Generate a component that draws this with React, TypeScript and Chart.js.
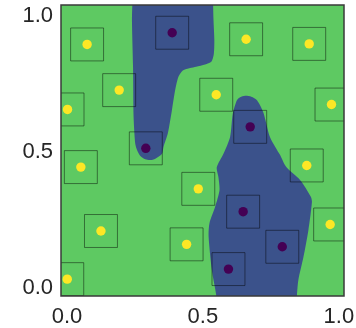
import React, { useEffect, useRef } from 'react';
import { Chart, registerables } from 'chart.js';

Chart.register(...registerables);

// Class 1 (yellow) points
const yellowX = [0.074, 0.192, 0.002, 0.051, 0.659, 0.891, 0.549, 0.973, 0.882, 0.125, 0.001, 0.483, 0.968, 0.44];
const yellowY = [0.896, 0.728, 0.657, 0.445, 0.915, 0.898, 0.711, 0.675, 0.451, 0.21, 0.033, 0.365, 0.234, 0.161];

// Class 0 (purple) points
const purpleX = [0.387, 0.29, 0.674, 0.648, 0.792, 0.594];
const purpleY = [0.939, 0.514, 0.593, 0.281, 0.152, 0.07];

// Decision region (class 0), upper lobe — boundary
const regionTopX = [0.241, 0.239, 0.243, 0.245, 0.251, 0.258, 0.269, 0.288, 0.306, 0.325, 0.349, 0.355, 0.371, 0.386, 0.398, 0.41, 0.426, 0.453, 0.475, 0.508, 0.531, 0.54, 0.542, 0.539, 0.537];
const regionTopY = [1.06, 0.985, 0.814, 0.63, 0.532, 0.507, 0.487, 0.474, 0.471, 0.476, 0.493, 0.519, 0.569, 0.654, 0.728, 0.777, 0.8, 0.809, 0.814, 0.822, 0.832, 0.86, 0.912, 0.985, 1.06];

// Decision region (class 0), lower lobe
const regionBottomX = [0.549, 0.549, 0.533, 0.521, 0.524, 0.545, 0.561, 0.557, 0.551, 0.576, 0.6, 0.61, 0.625, 0.637, 0.655, 0.678, 0.699, 0.722, 0.747, 0.784, 0.806, 0.858, 0.897, 0.901, 0.888, 0.87, 0.851, 0.846, 0.845];
const regionBottomY = [-0.06, -0.026, 0.066, 0.189, 0.238, 0.299, 0.36, 0.409, 0.444, 0.495, 0.556, 0.642, 0.691, 0.702, 0.707, 0.704, 0.691, 0.647, 0.555, 0.489, 0.446, 0.397, 0.336, 0.317, 0.213, 0.115, 0.029, -0.026, -0.06];

// Axes
const tickValues = [0, 0.5, 1.0];
const tickLabels = ['0.0', '0.5', '1.0'];
const xRange = [-0.022, 1.019];
const yRange = [-0.029, 1.041];

const GREEN = '#5ec962';
const BLUE = '#3b528b';
const YELLOW = '#fde725';
const PURPLE = '#440154';

const toXY = (xs: number[], ys: number[]) => xs.map((x, i) => ({ x, y: ys[i] }));

const bgPlugin = {
  id: 'bgPlugin',
  beforeDatasetsDraw(chart: any) {
    const { ctx, chartArea: a } = chart;
    ctx.save();
    ctx.fillStyle = GREEN;
    ctx.fillRect(a.left, a.top, a.right - a.left, a.bottom - a.top);
    ctx.restore();
  },
  afterDatasetsDraw(chart: any) {
    const { ctx, chartArea: a } = chart;
    ctx.save();
    ctx.strokeStyle = '#3a3a3a';
    ctx.lineWidth = 1.5;
    ctx.strokeRect(a.left, a.top, a.right - a.left, a.bottom - a.top);
    ctx.restore();
  },
};

export default function App() {
  const ref = useRef<HTMLCanvasElement | null>(null);

  useEffect(() => {
    if (!ref.current) return;
    const allX = [...yellowX, ...purpleX];
    const allY = [...yellowY, ...purpleY];
    const font = { family: '"Liberation Sans", Arial, sans-serif', size: 22 };
    const chart = new Chart(ref.current, {
      type: 'scatter',
      data: {
        datasets: [
          {
            data: toXY(yellowX, yellowY),
            pointRadius: 4.7,
            pointBackgroundColor: YELLOW,
            pointBorderWidth: 0,
            order: 0,
            clip: 0,
          } as any,
          {
            data: toXY(purpleX, purpleY),
            pointRadius: 4.7,
            pointBackgroundColor: PURPLE,
            pointBorderWidth: 0,
            order: 0,
            clip: 0,
          } as any,
          {
            data: toXY(allX, allY),
            pointStyle: 'rect',
            pointRadius: 23.3,
            pointBackgroundColor: 'rgba(0,0,0,0)',
            pointBorderColor: 'rgba(0,0,0,0.45)',
            pointBorderWidth: 1,
            order: 1,
            clip: 0,
          } as any,
          {
            type: 'line',
            data: toXY(regionTopX, regionTopY),
            showLine: true,
            fill: 'shape',
            backgroundColor: BLUE,
            borderColor: BLUE,
            borderWidth: 0,
            pointRadius: 0,
            tension: 0.25,
            order: 2,
            clip: 0,
          } as any,
          {
            type: 'line',
            data: toXY(regionBottomX, regionBottomY),
            showLine: true,
            fill: 'shape',
            backgroundColor: BLUE,
            borderColor: BLUE,
            borderWidth: 0,
            pointRadius: 0,
            tension: 0.25,
            order: 2,
            clip: 0,
          } as any,
        ],
      },
      options: {
        animation: false,
        responsive: true,
        maintainAspectRatio: false,
        events: [],
        layout: { autoPadding: false, padding: { top: 5, right: 12, left: 0, bottom: 0 } },
        plugins: { legend: { display: false }, tooltip: { enabled: false } },
        scales: {
          x: {
            type: 'linear',
            min: xRange[0],
            max: xRange[1],
            grid: { display: false, drawTicks: false },
            border: { display: false },
            afterBuildTicks: (s: any) => {
              s.ticks = tickValues.map((v) => ({ value: v }));
            },
            afterFit: (s: any) => {
              s.height = 32;
              s.paddingLeft = 0;
              s.paddingRight = 0;
              s.paddingTop = 0;
              s.paddingBottom = 0;
            },
            ticks: {
              font,
              color: '#262626',
              padding: 8,
              maxRotation: 0,
              autoSkip: false,
              callback: (v: any) => tickLabels[tickValues.indexOf(Number(v))] ?? '',
            },
          },
          y: {
            type: 'linear',
            min: yRange[0],
            max: yRange[1],
            grid: { display: false, drawTicks: false },
            border: { display: false },
            afterBuildTicks: (s: any) => {
              s.ticks = tickValues.map((v) => ({ value: v }));
            },
            afterFit: (s: any) => {
              s.width = 61;
              s.paddingLeft = 0;
              s.paddingRight = 0;
              s.paddingTop = 0;
              s.paddingBottom = 0;
            },
            ticks: {
              font,
              color: '#262626',
              padding: 8,
              autoSkip: false,
              callback: (v: any) => tickLabels[tickValues.indexOf(Number(v))] ?? '',
            },
          },
        },
      },
      plugins: [bgPlugin],
    } as any);
    return () => chart.destroy();
  }, []);

  return (
    <div style={{ position: 'fixed', left: 0, top: 0, width: 356, height: 328, background: '#fff' }}>
      <canvas ref={ref} />
    </div>
  );
}
